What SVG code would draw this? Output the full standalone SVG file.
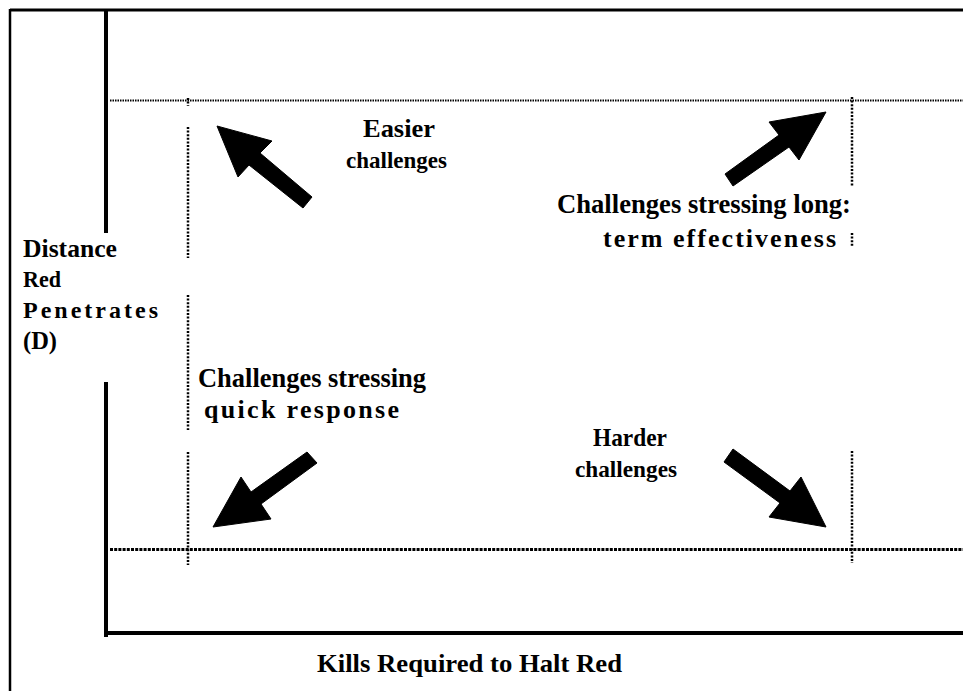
<svg xmlns="http://www.w3.org/2000/svg" width="963" height="691" viewBox="0 0 963 691">
<style>
text{font-family:"Liberation Serif","Times New Roman",serif;font-weight:bold;fill:#000}
.frame{stroke:#000;fill:none}
.dotH{stroke:#000;stroke-width:2;stroke-dasharray:1.5 1;fill:none}
.dotHB{stroke:#000;stroke-width:3;stroke-dasharray:3 1.2;fill:none}
.dotV{stroke:#000;stroke-width:2.5;stroke-dasharray:2 1.6;fill:none}
.arrow{fill:#000;stroke:#000;stroke-width:1;stroke-linejoin:round}
</style>
<rect width="963" height="691" fill="#fff"/>
<g id="frame">
<line class="frame" x1="10" y1="10" x2="963" y2="10" stroke-width="3"/>
<line class="frame" x1="10" y1="9" x2="10" y2="691" stroke-width="2.5"/>
</g>
<g id="axes">
<line class="frame" x1="106" y1="9" x2="106" y2="233" stroke-width="4"/>
<line class="frame" x1="106" y1="382" x2="106" y2="637" stroke-width="4"/>
<line class="frame" x1="104" y1="633" x2="963" y2="633" stroke-width="4"/>
</g>
<g id="connectors">
<line class="dotH" x1="110" y1="100.5" x2="963" y2="100.5"/>
<line class="dotHB" x1="110" y1="549.5" x2="963" y2="549.5"/>
<line class="dotV" x1="188" y1="98" x2="188" y2="106"/>
<line class="dotV" x1="188" y1="127" x2="188" y2="258"/>
<line class="dotV" x1="188" y1="295" x2="188" y2="430"/>
<line class="dotV" x1="188" y1="452" x2="188" y2="565"/>
<line class="dotV" x1="852" y1="97" x2="852" y2="186"/>
<line class="dotV" x1="852" y1="233" x2="852" y2="247"/>
<line class="dotV" x1="852" y1="451" x2="852" y2="563"/>
<polygon class="arrow" points="217,126 272,141 260,153 312,197 303,208 249,165 238,177"/>
<polygon class="arrow" points="826,112 799,160 789,147 733,186 725,174 779,135 769,122"/>
<polygon class="arrow" points="213,527 241,477 251,492 307,452 317,463 261,504 271,519"/>
<polygon class="arrow" points="826,527 801,477 790,491 733,449 724,462 780,503 769,517"/>
</g>
<g id="y-label">
<text x="23" y="257" font-size="25" textLength="94" lengthAdjust="spacingAndGlyphs">Distance</text>
<text x="23" y="287" font-size="24" textLength="38" lengthAdjust="spacingAndGlyphs">Red</text>
<text x="23" y="318" font-size="24" textLength="135" lengthAdjust="spacing">Penetrates</text>
<text x="23" y="349" font-size="25" textLength="34" lengthAdjust="spacingAndGlyphs">(D)</text>
</g>
<g id="x-label">
<text x="317" y="672" font-size="26" textLength="305" lengthAdjust="spacingAndGlyphs">Kills Required to Halt Red</text>
</g>
<g id="easier">
<text x="363" y="137" font-size="26" textLength="72" lengthAdjust="spacingAndGlyphs">Easier</text>
<text x="346" y="168" font-size="23" textLength="101" lengthAdjust="spacingAndGlyphs">challenges</text>
</g>
<g id="long-term">
<text x="557" y="213" font-size="26.5" textLength="294" lengthAdjust="spacingAndGlyphs">Challenges stressing long:</text>
<text x="603" y="247" font-size="26" textLength="233" lengthAdjust="spacing">term effectiveness</text>
</g>
<g id="quick">
<text x="198" y="387" font-size="26.5" textLength="228" lengthAdjust="spacingAndGlyphs">Challenges stressing</text>
<text x="204" y="418" font-size="26" textLength="195" lengthAdjust="spacing">quick response</text>
</g>
<g id="harder">
<text x="593" y="446" font-size="25" textLength="74" lengthAdjust="spacingAndGlyphs">Harder</text>
<text x="575" y="477" font-size="23" textLength="102" lengthAdjust="spacingAndGlyphs">challenges</text>
</g>
</svg>
